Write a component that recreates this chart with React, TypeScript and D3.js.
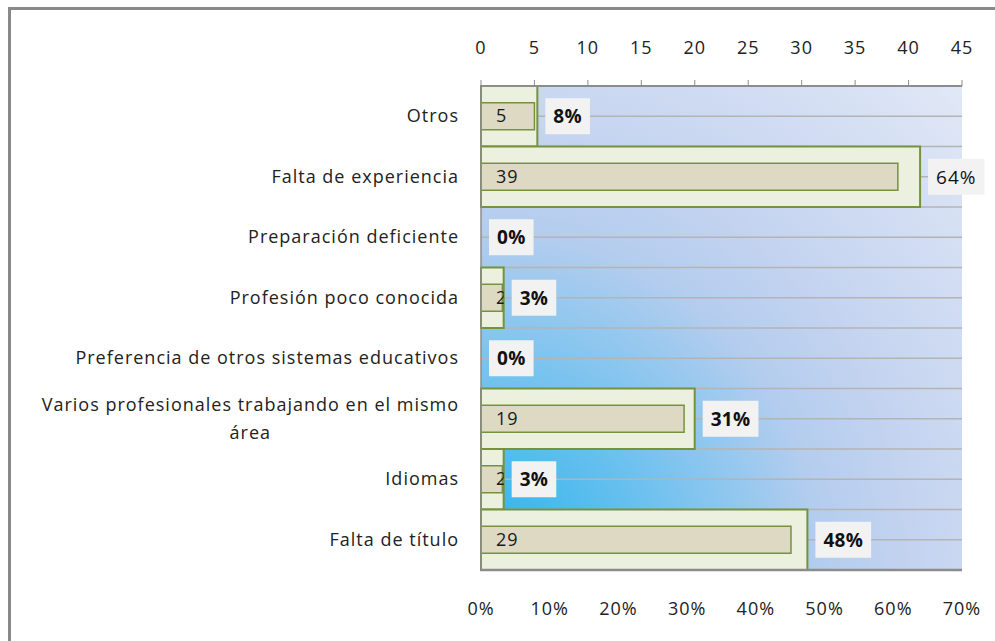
import React, { useEffect, useRef } from 'react'
import * as d3 from 'd3'

const categories = [
  'Otros',
  'Falta de experiencia',
  'Preparación deficiente',
  'Profesión poco conocida',
  'Preferencia de otros sistemas educativos',
  'Varios profesionales trabajando en el mismo|área',
  'Idiomas',
  'Falta de título'
]
const counts = [5, 39, 0, 2, 0, 19, 2, 29]
const percents = [0.082, 0.639, 0, 0.033, 0, 0.311, 0.033, 0.475]
const percentLabels = ['8%', '64%', '0%', '3%', '0%', '31%', '3%', '48%']
const countTicks = [0, 5, 10, 15, 20, 25, 30, 35, 40, 45]
const percentTicks = [0, 0.1, 0.2, 0.3, 0.4, 0.5, 0.6, 0.7]

const FONT = '"Open Sans", "Noto Sans", sans-serif'

export default function App() {
  const ref = useRef<SVGSVGElement>(null)

  useEffect(() => {
    const svg = d3.select(ref.current)
    svg.selectAll('*').remove()

    const left = 481, right = 962, top = 86, bottom = 570
    const xCount = d3.scaleLinear().domain([0, 45]).range([left, right])
    const xPct = d3.scaleLinear().domain([0, 0.7]).range([left, right])
    const y = d3.scaleBand().domain(categories).range([top, bottom]).padding(0)
    const bw = y.bandwidth()

    const defs = svg.append('defs')
    const grad = defs.append('radialGradient')
      .attr('id', 'bg')
      .attr('gradientUnits', 'userSpaceOnUse')
      .attr('cx', left).attr('cy', bottom)
      .attr('r', Math.hypot(right - left, bottom - top))
    grad.append('stop').attr('offset', 0).attr('stop-color', '#22b2ec')
    grad.append('stop').attr('offset', 0.28).attr('stop-color', '#72c2ef')
    grad.append('stop').attr('offset', 0.5).attr('stop-color', '#b4cdee')
    grad.append('stop').attr('offset', 0.65).attr('stop-color', '#c5d4f0')
    grad.append('stop').attr('offset', 1).attr('stop-color', '#e1e8f6')

    const label = (sel: any, size: number) => sel
      .style('font-family', FONT)
      .style('font-size', size + 'px')
      .style('letter-spacing', '1px')
      .style('fill', '#222')

    // outer frame
    svg.append('rect')
      .attr('x', 9.5).attr('y', 8.5)
      .attr('width', 1000).attr('height', 650)
      .attr('fill', 'white')
      .attr('stroke', '#898989').attr('stroke-width', 3)

    // plot background
    svg.append('rect')
      .attr('x', left).attr('y', top)
      .attr('width', right - left).attr('height', bottom - top)
      .attr('fill', 'url(#bg)')

    // gridlines every half band
    const grid = d3.range(0, categories.length * 2 + 1).map(k => top + k * bw / 2)
    svg.append('g').selectAll('line').data(grid).join('line')
      .attr('x1', left).attr('x2', right)
      .attr('y1', d => d).attr('y2', d => d)
      .attr('stroke', '#b4b4b4').attr('stroke-width', 1.5)

    const rows = svg.append('g').selectAll('g').data(categories).join('g')

    rows.each(function (cat, i) {
      const g = d3.select(this)
      const y0 = y(cat) as number
      const cy = y0 + bw / 2
      const pw = xPct(percents[i]) - left
      const cw = xCount(counts[i]) - left

      if (pw > 0) {
        g.append('rect')
          .attr('x', left).attr('y', y0)
          .attr('width', pw).attr('height', bw)
          .attr('fill', '#ebf0df')
          .attr('stroke', '#76923c').attr('stroke-width', 2)
      }
      if (cw > 0) {
        g.append('rect')
          .attr('x', left).attr('y', cy - 13.5)
          .attr('width', cw).attr('height', 27)
          .attr('fill', '#ddd9c3')
          .attr('stroke', '#76923c').attr('stroke-width', 1.5)

        defs.append('clipPath').attr('id', 'clip' + i)
          .append('rect')
          .attr('x', left).attr('y', y0)
          .attr('width', pw).attr('height', bw)

        label(g.append('text'), 18)
          .attr('clip-path', `url(#clip${i})`)
          .attr('x', left + 15).attr('y', cy + 6)
          .style('fill', '#1a1a1a')
          .text(counts[i])
      }

      // percentage label with box
      const bx = left + pw + 8
      const box = g.append('rect')
        .attr('x', bx).attr('y', cy - 18)
        .attr('height', 36)
        .attr('fill', '#f2f2f2')
      const t = g.append('text')
        .attr('x', bx + 8).attr('y', cy + 7)
        .style('font-family', FONT)
        .style('font-size', '19px')
        .style('letter-spacing', i === 1 ? '1px' : '0.3px')
        .style('font-weight', i === 1 ? 'normal' : 'bold')
        .style('fill', '#111')
        .text(percentLabels[i])
      const len = (t.node() as SVGTextElement).getComputedTextLength()
      box.attr('width', len + 16)

      // category label
      const lines = cat.split('|')
      if (lines.length === 1) {
        label(g.append('text'), 18)
          .attr('x', 459).attr('y', cy + 6)
          .attr('text-anchor', 'end')
          .text(cat)
      } else {
        const l1 = label(g.append('text'), 18)
          .attr('x', 459).attr('y', cy - 8)
          .attr('text-anchor', 'end')
          .text(lines[0])
        const w1 = (l1.node() as SVGTextElement).getComputedTextLength()
        label(g.append('text'), 18)
          .attr('x', 459 - w1 / 2).attr('y', cy + 20)
          .attr('text-anchor', 'middle')
          .text(lines[1])
      }
    })

    // axes lines
    svg.append('line')
      .attr('x1', left).attr('x2', left).attr('y1', top).attr('y2', bottom)
      .attr('stroke', '#8c8c8c').attr('stroke-width', 1.5)
    svg.append('line')
      .attr('x1', left - 1).attr('x2', right).attr('y1', bottom).attr('y2', bottom)
      .attr('stroke', '#8c8c8c').attr('stroke-width', 2.5)
    svg.append('line')
      .attr('x1', left).attr('x2', right).attr('y1', top).attr('y2', top)
      .attr('stroke', '#8c8c8c').attr('stroke-width', 2)

    // top axis (counts)
    svg.append('g').selectAll('line').data(countTicks).join('line')
      .attr('x1', d => xCount(d)).attr('x2', d => xCount(d))
      .attr('y1', top - 6).attr('y2', top)
      .attr('stroke', '#8c8c8c').attr('stroke-width', 1)
    label(svg.append('g').selectAll('text').data(countTicks).join('text'), 18)
      .attr('x', (d: number) => xCount(d)).attr('y', 54)
      .attr('text-anchor', 'middle')
      .text((d: number) => d)

    // bottom axis (percent)
    label(svg.append('g').selectAll('text').data(percentTicks).join('text'), 18)
      .attr('x', (d: number) => xPct(d)).attr('y', 615)
      .attr('text-anchor', 'middle')
      .text((d: number) => d3.format('.0%')(d))
  }, [])

  return (
    <svg ref={ref} width={995} height={641}
      style={{ position: 'absolute', left: 0, top: 0, background: 'white' }} />
  )
}
